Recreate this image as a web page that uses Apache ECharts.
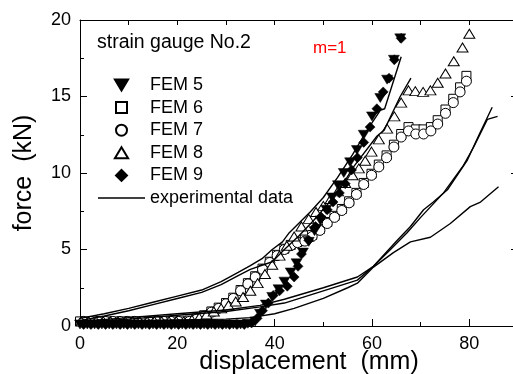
<!DOCTYPE html>
<html>
<head>
<meta charset="utf-8">
<script src="https://cdn.jsdelivr.net/npm/echarts@6/dist/echarts.min.js"></script>
<style>
html,body{margin:0;padding:0;overflow:hidden;background:#fff;}
#chart{width:521px;height:374px;}
</style>
</head>
<body>
<div id="chart"></div>
<script>
// ---- data (x = displacement mm, y = force kN) ----
var xTickLabels = [0, 20, 40, 60, 80];
var yTickLabels = [0, 5, 10, 15, 20];

var fem5 = [[0,0.1],[1.5,0.1],[3,0.1],[4.5,0.1],[6,0.1],[7.5,0.1],[9,0.1],[10.5,0.1],[12,0.1],[13.5,0.1],[15,0.1],[16.5,0.1],[18,0.1],[19.5,0.1],[21,0.1],[22.5,0.1],[24,0.1],[25.5,0.1],[27,0.1],[28.5,0.1],[30,0.1],[31.5,0.1],[33,0.1],[34.5,0.15],[36,0.3],[37,0.8],[38.2,1.4],[39.5,1.9],[40.8,2.4],[42,2.9],[43.3,3.5],[44.5,4.1],[45.8,4.8],[47,5.5],[48.2,6.2],[49.4,6.9],[50.6,7.6],[51.8,8.4],[53,9.2],[54.2,10.0],[55.5,10.7],[56.9,11.5],[58.3,12.5],[60,13.7],[61.7,14.9],[63.1,16.1],[64.5,17.4],[65.8,18.8]];

var fem6 = [[0,0.3],[1.5,0.3],[3,0.3],[4.5,0.3],[6,0.3],[7.5,0.3],[9,0.3],[10.5,0.3],[12,0.3],[13.5,0.3],[15,0.3],[16.5,0.3],[18,0.3],[19.5,0.3],[21,0.3],[22.5,0.35],[24,0.5],[25.5,0.7],[27,0.95],[28.5,1.2],[30,1.5],[31.5,1.85],[33,2.35],[34.5,2.8],[36,3.25],[37.5,3.75],[39,4.2],[40.5,4.65],[42,5.05],[43.3,5.3],[44.7,5.5],[46.2,5.65],[47.7,5.95],[49.3,6.35],[50.8,6.8],[52.3,7.2],[53.8,7.65],[55.3,8.15],[56.8,8.7],[58.3,9.35],[59.9,9.95],[61.4,10.55],[63,11.15],[64.5,11.85],[66,12.55],[67.5,13.0],[69,12.85],[70.6,12.85],[72.1,13.0],[73.5,13.45],[75.1,14.15],[76.7,14.85],[78.1,15.6],[79.4,16.35]];

var fem7 = [[0.7,0.3],[2.2,0.3],[3.7,0.3],[5.2,0.3],[6.7,0.3],[8.2,0.3],[9.7,0.3],[11.2,0.3],[12.7,0.3],[14.2,0.3],[15.7,0.3],[17.2,0.3],[18.7,0.3],[20.2,0.3],[22.5,0.3],[24,0.45],[25.5,0.65],[27,0.9],[28.5,1.15],[30,1.45],[31.5,1.8],[33,2.3],[34.5,2.75],[36,3.2],[37.5,3.7],[39,4.15],[40.5,4.6],[42,5.0],[43.3,5.25],[44.7,5.45],[46.2,5.55],[47.7,5.85],[49.3,6.25],[50.8,6.7],[52.3,7.1],[53.8,7.55],[55.3,8.05],[56.8,8.6],[58.3,9.25],[59.9,9.85],[61.4,10.4],[63,11.0],[64.5,11.7],[66,12.35],[67.5,12.75],[69,12.55],[70.6,12.55],[72.1,12.75],[73.5,13.2],[75.1,13.9],[76.7,14.6],[78.1,15.3],[79.4,16.0]];

var fem8 = [[0.3,0.3],[1.8,0.3],[3.3,0.3],[4.8,0.3],[6.3,0.3],[7.8,0.3],[9.3,0.3],[10.8,0.3],[12.3,0.3],[13.8,0.3],[15.3,0.3],[16.8,0.3],[18.3,0.3],[19.8,0.3],[21.3,0.3],[23,0.4],[24.5,0.55],[26,0.75],[27.5,0.95],[29,1.15],[30.5,1.35],[32,1.6],[33.5,1.9],[35,2.3],[36.5,2.8],[38,3.4],[39.5,4.0],[41,4.6],[42.5,5.25],[44,5.85],[45.5,6.5],[47,7.0],[48.5,7.45],[50,7.85],[51.5,8.3],[53,8.8],[54.5,9.35],[56,9.85],[57.3,10.3],[58.6,10.8],[59.9,11.4],[61.4,12.2],[63.1,12.9],[64.6,13.7],[66,14.6],[67.5,15.4],[68.9,15.35],[70.5,15.3],[72,15.4],[73.5,15.9],[75.1,16.5],[76.8,17.3],[78.6,18.2],[80,19.1]];

var fem9 = [[0.75,0.1],[2.25,0.1],[3.75,0.1],[5.25,0.1],[6.75,0.1],[8.25,0.1],[9.75,0.1],[11.25,0.1],[12.75,0.1],[14.25,0.1],[15.75,0.1],[17.25,0.1],[18.75,0.1],[20.25,0.1],[21.75,0.1],[23.25,0.1],[24.75,0.1],[26.25,0.1],[27.75,0.1],[29.25,0.1],[30.75,0.1],[32.25,0.1],[33.75,0.1],[35.25,0.2],[36.4,0.5],[37.5,1.0],[38.7,1.5],[39.7,2.0],[41,2.3],[42.6,2.6],[44,3.2],[44.8,3.9],[45.5,4.7],[47,5.6],[48.4,6.5],[49.6,7.1],[50.8,7.6],[52,8.1],[53.3,8.7],[54.5,9.3],[55.8,10.2],[57,11.0],[58.3,12.0],[59.6,13.0],[61,14.2],[62.3,15.3],[63.5,16.2],[64.6,17.4],[66,18.8]];

var exp1 = [[0,0.5],[5,0.8],[10,1.15],[15,1.55],[20,1.95],[25,2.35],[29,2.9],[32.5,3.5],[35,3.95],[37.4,4.4],[39.5,5.0],[41.6,5.5],[43,6.1],[47.3,7.45],[50,8.4],[52.9,9.7],[56,11.2],[59,12.8],[61.7,14.1],[62.6,14.2],[66,17.6]];
var exp2 = [[0,0.35],[5,0.65],[10,1.0],[15,1.4],[20,1.8],[25,2.2],[29,2.7],[32.5,3.3],[35,3.7],[39.5,4.2],[42,5.0],[45,5.9],[48,6.9],[51,8.0],[53.5,9.0],[56.2,10.4],[61,12.4],[62.5,12.8],[65.8,15.0],[68,16.2]];
var exp3 = [[0,0.3],[10,0.55],[20,0.8],[30,1.05],[37,1.35],[42,1.75],[50,2.5],[57,3.2],[60.3,3.9],[65.2,5.6],[67.9,6.5],[70.6,7.6],[72.6,8.1],[75.5,8.9],[79.6,10.85],[82,12.5],[84.7,14.3]];
var exp4 = [[0,0.25],[10,0.45],[20,0.7],[30,0.95],[37,1.25],[42,1.5],[50,2.3],[57,3.0],[60.3,3.9],[63.8,5.0],[67.2,6.1],[70,7.1],[74.7,8.7],[78.8,10.5],[80.9,11.7],[83.7,13.5],[85.8,13.7]];
var exp5 = [[0,0.2],[10,0.3],[20,0.4],[30,0.45],[35,0.55],[40,0.8],[44,1.15],[50,1.8],[55,2.5],[57,2.8],[60.3,3.85],[64.4,4.8],[67.9,5.5],[72,5.8],[76.1,6.7],[80.2,7.8],[82.3,8.1],[86,9.1]];

// ---- chart ----
var FONT = '"Liberation Sans", Arial, Helvetica, sans-serif';
var chart = echarts.init(document.getElementById('chart'), null, {renderer: 'canvas'});

var SYM_DOWN = 'path://M0,0L12,0L6,10Z';
var SYM_UP = 'path://M6,0L12,10L0,10Z';
var SYM_SQ = 'path://M0,0L10,0L10,10L0,10Z';
var SYM_DIA = 'path://M5,0L10,5L5,10L0,5Z';
var SYM_LINE = 'path://M0,0L47,0L47,1.4L0,1.4Z';

function scatter(name, data, symbol, size, filled, z) {
  return {
    name: name, type: 'scatter', data: data, symbol: symbol, symbolSize: size,
    xAxisIndex: 0, yAxisIndex: 0, z: z, silent: true,
    itemStyle: filled ? {color: '#000', borderColor: '#000', borderWidth: 0.5, opacity: 1}
                      : {color: '#fff', borderColor: '#000', borderWidth: 1, opacity: 1}
  };
}
function expLine(data) {
  return {
    name: 'experimental data', type: 'line', data: data, symbol: 'none', showSymbol: false,
    xAxisIndex: 0, yAxisIndex: 0, z: 6, silent: true,
    lineStyle: {color: '#000', width: 1.4}, itemStyle: {color: '#000'}
  };
}

var tickLabelStyle = {fontFamily: FONT, fontSize: 18, color: '#000'};

var option = {
  animation: false,
  backgroundColor: '#fff',
  grid: {left: 80, right: 3, top: 20, bottom: 48, containLabel: false, outerBoundsMode: 'none'},
  title: [
    {text: 'strain gauge No.2', left: 97, top: 33, padding: 0,
     textStyle: {fontFamily: FONT, fontSize: 19.5, fontWeight: 'normal', color: '#000'}},
    {text: 'm=1', left: 313, top: 40, padding: 0,
     textStyle: {fontFamily: FONT, fontSize: 17, fontWeight: 'normal', color: '#ff0000'}}
  ],
  legend: {
    orient: 'vertical', left: 98, top: 76, padding: 0,
    itemWidth: 47, itemHeight: 11, itemGap: 4.6,
    data: ['FEM 5', 'FEM 6', 'FEM 7', 'FEM 8', 'FEM 9', {name: 'experimental data', icon: SYM_LINE}],
    textStyle: {fontFamily: FONT, fontSize: 18, color: '#000'},
    selectedMode: false
  },
  xAxis: [
    {type: 'value', position: 'bottom', min: 0, max: 90, interval: 20,
     name: 'displacement  (mm)', nameLocation: 'middle', nameGap: 24, nameMoveOverlap: false,
     nameTextStyle: {fontFamily: FONT, fontSize: 25, color: '#000', padding: [0, 0, 0, 20]},
     axisLine: {show: true, onZero: false, lineStyle: {color: '#000', width: 1}},
     axisTick: {show: true, inside: true, length: 7, lineStyle: {color: '#000'}},
     axisLabel: Object.assign({show: true, margin: 9, showMaxLabel: false, formatter: function (v) { return xTickLabels.indexOf(v) >= 0 ? String(v) : ''; }}, tickLabelStyle),
     splitLine: {show: false}},
    {type: 'value', position: 'bottom', min: 0, max: 90, interval: 10,
     axisLine: {show: false}, axisTick: {show: true, inside: true, length: 4, lineStyle: {color: '#000'}},
     axisLabel: {show: false}, splitLine: {show: false}},
    {type: 'value', position: 'top', min: 0, max: 90, interval: 10,
     axisLine: {show: true, onZero: false, lineStyle: {color: '#000', width: 1}},
     axisTick: {show: true, inside: true, length: 5, lineStyle: {color: '#000'}},
     axisLabel: {show: false}, splitLine: {show: false}}
  ],
  yAxis: [
    {type: 'value', position: 'left', min: 0, max: 20, interval: 5,
     name: 'force  (kN)', nameLocation: 'middle', nameGap: 43, nameRotate: 90, nameMoveOverlap: false,
     nameTextStyle: {fontFamily: FONT, fontSize: 25, color: '#000'},
     axisLine: {show: true, onZero: false, lineStyle: {color: '#000', width: 1}},
     axisTick: {show: true, inside: true, length: 7, lineStyle: {color: '#000'}},
     minorTick: {show: true, splitNumber: 2, length: 4, lineStyle: {color: '#000'}},
     axisLabel: Object.assign({show: true, margin: 9, formatter: function (v) { return yTickLabels.indexOf(v) >= 0 ? String(v) : ''; }}, tickLabelStyle),
     splitLine: {show: false}, minorSplitLine: {show: false}},
    {type: 'value', position: 'right', min: 0, max: 20, interval: 5,
     axisLine: {show: true, onZero: false, lineStyle: {color: '#000', width: 1}},
     axisTick: {show: true, inside: true, length: 7, lineStyle: {color: '#000'}},
     axisLabel: {show: false}, splitLine: {show: false}}
  ],
  series: [
    scatter('FEM 6', fem6, SYM_SQ, 9, false, 2),
    scatter('FEM 7', fem7, 'circle', 10, false, 3),
    scatter('FEM 8', fem8, SYM_UP, [11, 9], false, 3),
    scatter('FEM 5', fem5, SYM_DOWN, [11, 9], true, 4),
    scatter('FEM 9', fem9, SYM_DIA, 10, true, 4),
    expLine(exp1), expLine(exp2), expLine(exp3), expLine(exp4), expLine(exp5)
  ]
};
chart.setOption(option);
</script>
</body>
</html>
